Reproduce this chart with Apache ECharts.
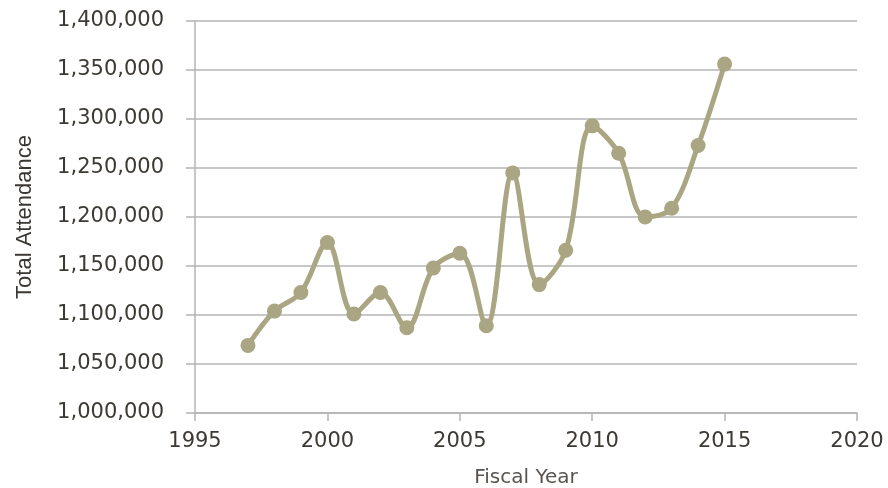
<!DOCTYPE html>
<html>
<head>
<meta charset="utf-8">
<script src="https://cdn.jsdelivr.net/npm/echarts@6/dist/echarts.min.js"></script>
<style>
  html, body { margin: 0; padding: 0; background: #fff; }
  #chart { width: 888px; height: 488px; }
</style>
</head>
<body>
<div id="chart"></div>
<script>
// fiscal years and total attendance
const years = [1997, 1998, 1999, 2000, 2001, 2002, 2003, 2004, 2005, 2006,
  2007, 2008, 2009, 2010, 2011, 2012, 2013, 2014, 2015];
const attendance = [1069000, 1104000, 1123000, 1174000, 1101000, 1123000, 1087000,
  1148000, 1163000, 1089000, 1245000, 1131000, 1166000, 1293000, 1265000,
  1200000, 1209000, 1273000, 1356000];

const textColor = "#3d3a34";
const gridColor = "#b4b4b4";
const font = "'Century Gothic', 'DejaVu Sans', sans-serif";

const myChart = echarts.init(document.getElementById("chart"));
myChart.setOption({
  animation: false,
  grid: { left: 195, right: 31, top: 21, bottom: 75, outerBoundsMode: "none" },
  xAxis: {
    type: "value",
    min: 1995,
    max: 2020,
    interval: 5,
    name: "Fiscal Year",
    nameLocation: "middle",
    nameGap: 55,
    nameTextStyle: { color: "#58544e", fontSize: 20, fontFamily: font, verticalAlign: "top" },
    axisLine: { lineStyle: { color: gridColor, width: 1.5 } },
    axisTick: { show: true, length: 8, lineStyle: { color: gridColor, width: 1.5 } },
    axisLabel: {
      color: textColor,
      fontSize: 21,
      fontFamily: font,
      margin: 18,
      formatter: (v) => String(v),
    },
    splitLine: { show: false },
  },
  yAxis: {
    type: "value",
    min: 1000000,
    max: 1400000,
    interval: 50000,
    name: "Total Attendance",
    nameLocation: "middle",
    nameGap: 159,
    nameTextStyle: { color: "#3a3632", fontSize: 22, fontFamily: "'Liberation Sans', Arial, sans-serif" },
    axisLine: { show: true, lineStyle: { color: gridColor, width: 1.5 } },
    axisTick: { show: true, length: 9, lineStyle: { color: gridColor, width: 1.5 } },
    axisLabel: {
      color: textColor,
      fontSize: 21,
      fontFamily: font,
      margin: 31,
      formatter: (v) => v.toLocaleString("en-US"),
    },
    splitLine: { lineStyle: { color: gridColor, width: 1.5 } },
  },
  series: [
    {
      type: "line",
      data: years.map((y, i) => [y, attendance[i]]),
      smooth: 0.35,
      symbol: "circle",
      symbolSize: 15,
      lineStyle: { color: "#aaa582", width: 5 },
      itemStyle: { color: "#aaa582" },
    },
  ],
});
</script>
</body>
</html>
